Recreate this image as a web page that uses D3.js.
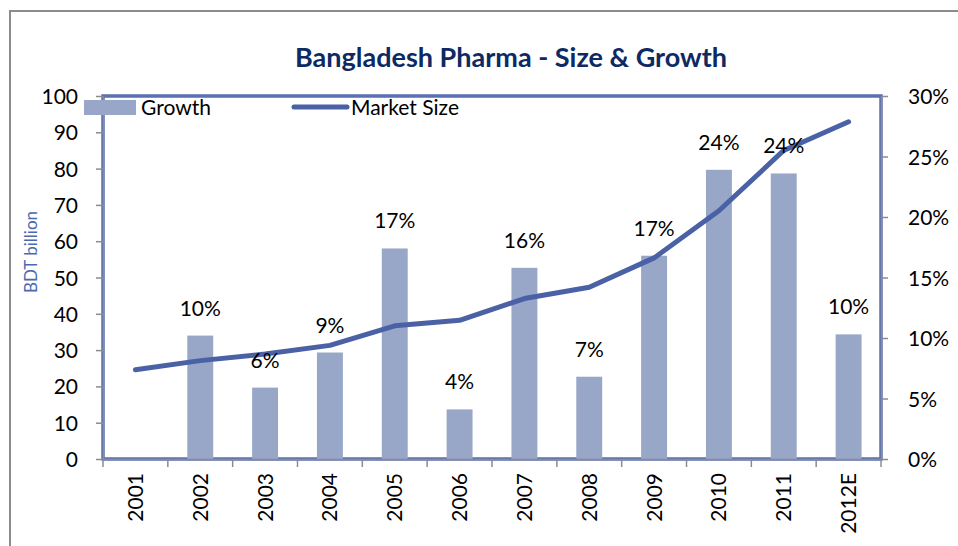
<!DOCTYPE html>
<html>
<head>
<meta charset="utf-8">
<script src="https://cdn.jsdelivr.net/npm/d3@7"></script>
<style>
  body { margin: 0; background: #fff; }
  svg { display: block; font-family: Lato, "Open Sans", sans-serif; }
</style>
</head>
<body>
<div id="chart"></div>
<script>
// ---------- data ----------
var years = ["2001", "2002", "2003", "2004", "2005", "2006", "2007", "2008", "2009", "2010", "2011", "2012E"];
var marketSize = [24.6, 27.1, 28.9, 31.3, 36.7, 38.2, 44.2, 47.3, 55.4, 68.4, 85.0, 92.9];
var growth = [null, 0.102, 0.059, 0.088, 0.174, 0.041, 0.158, 0.068, 0.168, 0.239, 0.236, 0.103];
var growthLabels = [null, "10%", "6%", "9%", "17%", "4%", "16%", "7%", "17%", "24%", "24%", "10%"];
var leftTicks = [0, 10, 20, 30, 40, 50, 60, 70, 80, 90, 100];
var rightTicks = [0, 0.05, 0.10, 0.15, 0.20, 0.25, 0.30];

var width = 958, height = 546;
var plot = {left: 103, right: 881, top: 96, bottom: 459};

var svg = d3.select("#chart").append("svg")
    .attr("width", width)
    .attr("height", height);

// outer chart frame
svg.append("rect")
    .attr("x", 10).attr("y", 11)
    .attr("width", 980).attr("height", 560)
    .style("fill", "none")
    .style("stroke", "#8c8c8c")
    .style("stroke-width", 2);

// ---------- scales ----------
var x = d3.scaleBand().domain(years).range([plot.left, plot.right]);
var yL = d3.scaleLinear().domain([0, 100]).range([plot.bottom, plot.top]);
var yR = d3.scaleLinear().domain([0, 0.30]).range([plot.bottom, plot.top]);

// ---------- plot border ----------
svg.append("rect")
    .attr("x", plot.left).attr("y", plot.top)
    .attr("width", plot.right - plot.left)
    .attr("height", plot.bottom - plot.top)
    .style("fill", "none")
    .style("stroke", "#5b70b3")
    .style("stroke-width", 3.5);

// ---------- bars (growth) ----------
var barW = x.bandwidth() * 0.4;
var bars = years.map(function(d, i) { return {year: d, g: growth[i], label: growthLabels[i]}; })
    .filter(function(d) { return d.g != null; });

svg.selectAll(".bar").data(bars).enter().append("rect")
    .attr("class", "bar")
    .attr("x", function(d) { return x(d.year) + (x.bandwidth() - barW) / 2; })
    .attr("y", function(d) { return yR(d.g); })
    .attr("width", barW)
    .attr("height", function(d) { return plot.bottom - yR(d.g); })
    .style("fill", "#98a6c8");

// ---------- axes ----------
var axisL = svg.append("g")
    .attr("transform", "translate(" + plot.left + ",0)")
    .call(d3.axisLeft(yL).tickValues(leftTicks).tickSize(7).tickPadding(18).tickSizeOuter(0));

var axisR = svg.append("g")
    .attr("transform", "translate(" + plot.right + ",0)")
    .call(d3.axisRight(yR).tickValues(rightTicks).tickSize(7).tickPadding(20).tickSizeOuter(0)
      .tickFormat(d3.format(".0%")));

var axisB = svg.append("g")
    .attr("transform", "translate(0," + plot.bottom + ")")
    .call(d3.axisBottom(x).tickSize(0).tickSizeOuter(0));

// tick marks between categories
svg.selectAll(".cat_tick").data(d3.range(years.length + 1)).enter().append("line")
    .attr("class", "cat_tick")
    .attr("x1", function(i) { return plot.left + i * x.step(); })
    .attr("x2", function(i) { return plot.left + i * x.step(); })
    .attr("y1", plot.bottom)
    .attr("y2", plot.bottom + 8)
    .style("stroke", "#8c8c8c")
    .style("stroke-width", 1.5);

[axisL, axisR, axisB].forEach(function(a) {
  a.selectAll(".domain").style("stroke", "#8c8c8c").style("stroke-width", 1.5);
  a.selectAll(".tick line").style("stroke", "#8c8c8c").style("stroke-width", 1.5);
  a.selectAll("text").style("font-family", "Lato, 'Open Sans', sans-serif")
    .style("font-size", "21px").style("fill", "#000");
});
axisL.selectAll("text").attr("dy", "0.36em");
axisR.selectAll("text").attr("dy", "0.36em");

axisB.selectAll(".tick text")
    .attr("transform", "rotate(-90)")
    .attr("text-anchor", "end")
    .attr("x", -14)
    .attr("y", 0)
    .attr("dy", "0.36em");

// ---------- line (market size) ----------
var line = d3.line()
    .x(function(d, i) { return x(years[i]) + x.bandwidth() / 2; })
    .y(function(d) { return yL(d); });

svg.append("path")
    .datum(marketSize)
    .attr("d", line)
    .style("fill", "none")
    .style("stroke", "#4a62a5")
    .style("stroke-width", 5)
    .style("stroke-linecap", "round")
    .style("stroke-linejoin", "round");

// ---------- data labels ----------
svg.selectAll(".glabel").data(bars).enter().append("text")
    .attr("class", "glabel")
    .attr("x", function(d) { return x(d.year) + x.bandwidth() / 2; })
    .attr("y", function(d) { return yR(d.g) - 20; })
    .attr("text-anchor", "middle")
    .style("font-size", "21px")
    .style("fill", "#000")
    .text(function(d) { return d.label; });

// ---------- title ----------
svg.append("text")
    .attr("x", 511).attr("y", 67)
    .attr("text-anchor", "middle")
    .style("font-size", "27px")
    .style("font-weight", "bold")
    .style("fill", "#0d2a63")
    .text("Bangladesh Pharma - Size & Growth");

// y axis title
svg.append("text")
    .attr("transform", "translate(37,252) rotate(-90)")
    .attr("text-anchor", "middle")
    .style("font-size", "17px")
    .style("fill", "#4a6ab0")
    .text("BDT billion");

// ---------- legend ----------
var legend = svg.append("g");
legend.append("rect")
    .attr("x", 84).attr("y", 100).attr("width", 52).attr("height", 15)
    .style("fill", "#98a6c8");
legend.append("text")
    .attr("x", 141).attr("y", 115)
    .style("font-size", "21px")
    .text("Growth");
legend.append("line")
    .attr("x1", 294).attr("x2", 347).attr("y1", 107).attr("y2", 107)
    .style("stroke", "#4a62a5").style("stroke-width", 5).style("stroke-linecap", "round");
legend.append("text")
    .attr("x", 351).attr("y", 115)
    .style("font-size", "21px")
    .text("Market Size");
</script>
</body>
</html>
